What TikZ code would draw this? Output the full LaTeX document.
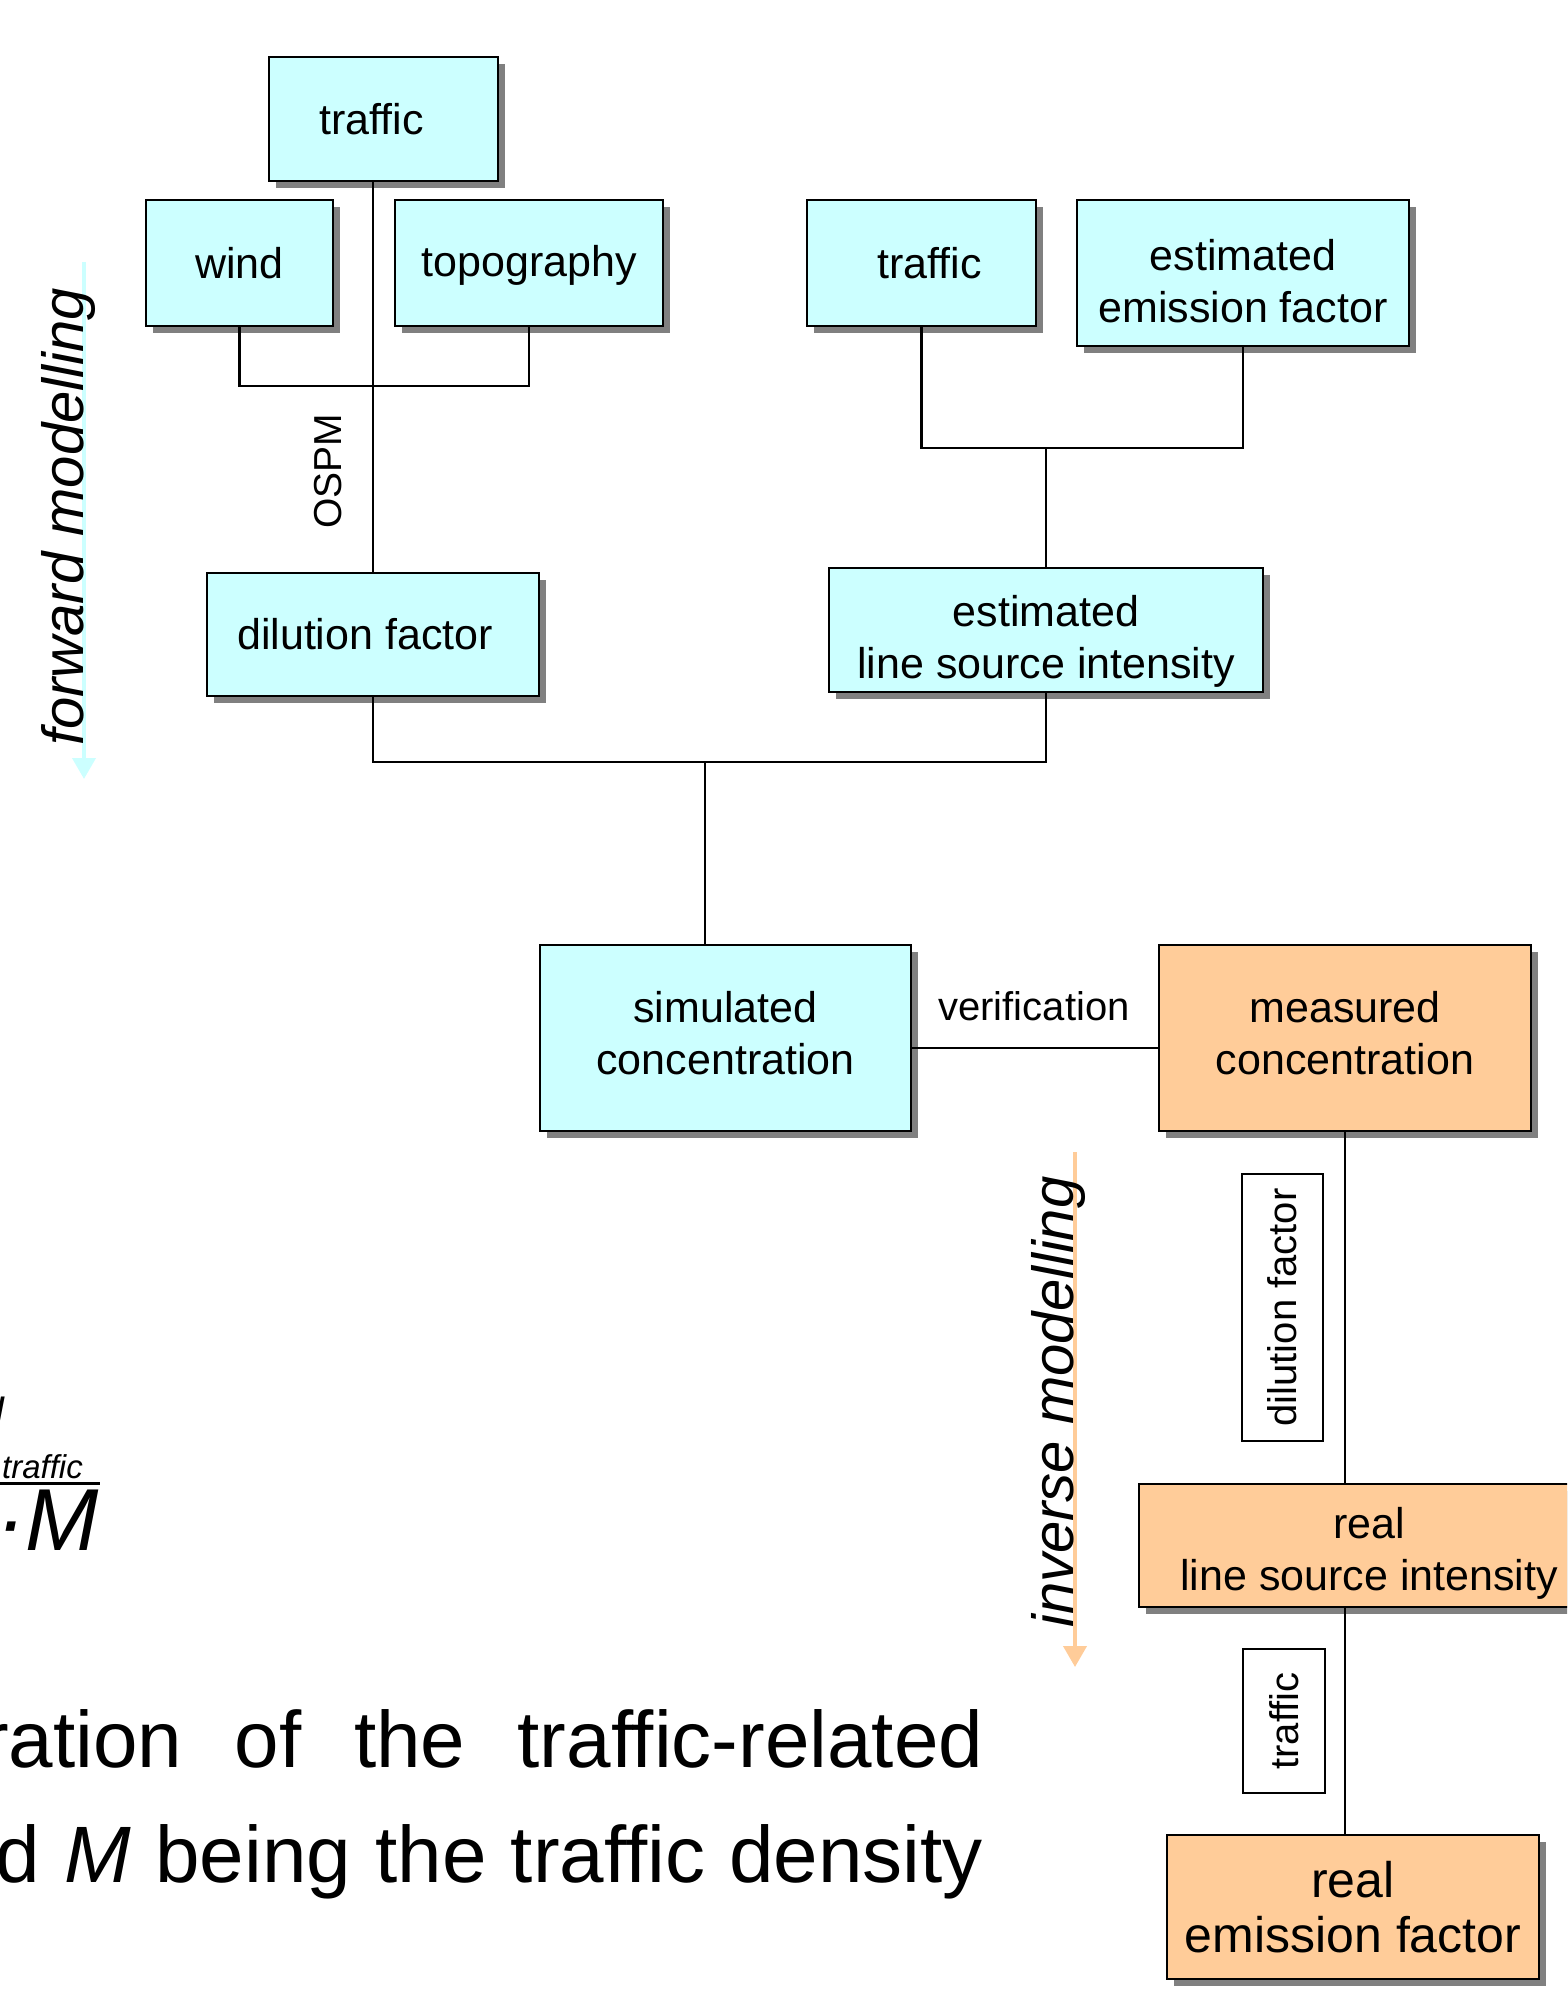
\documentclass[tikz,border=0pt]{standalone}
\usepackage{fontspec}
\setmainfont{Liberation Sans}
\usetikzlibrary{shadows,arrows.meta}
\definecolor{cyanfill}{HTML}{CCFFFF}
\definecolor{orangefill}{HTML}{FFCC99}
\definecolor{shadowgray}{HTML}{808080}
\begin{document}
\begin{tikzpicture}[x=1pt,y=-1pt,
  basebox/.style={draw=black, line width=2.5pt, inner sep=0pt,
    drop shadow={shadow xshift=7pt, shadow yshift=-7pt, fill=shadowgray, opacity=1}},
  fwdbox/.style={basebox, fill=cyanfill},
  invbox/.style={basebox, fill=orangefill},
  boxtext/.style={inner sep=0pt, align=center, font=\fontsize{43}{52}\selectfont},
  link/.style={draw=black, line width=2.2pt},
  tagbox/.style={draw=black, line width=2pt, fill=white, inner sep=0pt, font=\fontsize{40}{48}\selectfont},
  lbl/.style={inner sep=0pt, font=\fontsize{40}{48}\selectfont},
  flow/.style={line width=4pt, -{Triangle[width=23pt,length=21pt]}},
  flowtext/.style={inner sep=0pt, rotate=90, anchor=base, font=\fontsize{58}{58}\selectfont\itshape},
  bodytext/.style={inner sep=0pt, font=\fontsize{80}{80}\selectfont}
]
\useasboundingbox (0,0) rectangle (1567,2002);
\clip (0,0) rectangle (1567,2002);

% flow arrows
\coordinate (fwdTop) at (84,262);
\coordinate (fwdEnd) at (84,779);
\draw[flow, color=cyanfill] (fwdTop) -- (fwdEnd);
\node[flowtext] (fwdlab) at (83,517) {forward modelling};
\coordinate (invTop) at (1075,1152);
\coordinate (invEnd) at (1075,1667);
\draw[flow, color=orangefill] (invTop) -- (invEnd);
\node[flowtext] (invlab) at (1073,1402) {inverse modelling};

% boxes
\node[fwdbox, minimum width=229pt, minimum height=124pt] (trafA) at (383.5,119) {};
\node[boxtext] (trafAt) at ([xshift=-12pt]trafA.center) {traffic};
\node[fwdbox, minimum width=187pt, minimum height=126pt] (wind) at (239.5,263) {};
\node[boxtext] (windt) at (wind.center) {wind};
\node[fwdbox, minimum width=268pt, minimum height=126pt] (topo) at (529,263) {};
\node[boxtext] (topot) at ([yshift=-2pt]topo.center) {topography};
\node[fwdbox, minimum width=332pt, minimum height=123pt] (dil) at (373,634.5) {};
\node[boxtext] (dilt) at ([xshift=-8pt]dil.center) {dilution factor};
\node[fwdbox, minimum width=229pt, minimum height=126pt] (trafB) at (921.5,263) {};
\node[boxtext] (trafBt) at ([xshift=8pt]trafB.center) {traffic};
\node[fwdbox, minimum width=332pt, minimum height=146pt] (eef) at (1243,273) {};
\node[boxtext] (eeft) at ([yshift=-8pt]eef.center) {estimated\\emission factor};
\node[fwdbox, minimum width=434pt, minimum height=124pt] (elsi) at (1046,630) {};
\node[boxtext] (elsit) at ([yshift=-11pt]elsi.center) {estimated\\line source intensity};
\node[fwdbox, minimum width=371pt, minimum height=186pt] (sim) at (725.5,1038) {};
\node[boxtext] (simt) at ([yshift=5pt]sim.center) {simulated\\concentration};
\node[invbox, minimum width=372pt, minimum height=186pt] (meas) at (1345,1038) {};
\node[boxtext] (meast) at ([yshift=5pt]meas.center) {measured\\concentration};
\node[invbox, minimum width=460pt, minimum height=123pt] (rlsi) at (1369,1545.5) {};
\node[boxtext] (rlsit) at ([yshift=-8pt]rlsi.center) {real\\line source intensity};
\node[invbox, minimum width=372pt, minimum height=144pt] (ref) at (1353,1907) {};
\node[boxtext, font=\fontsize{50}{55}\selectfont] (reft) at ([yshift=0pt]ref.center) {real\\emission factor};

% tag boxes
\node[tagbox, minimum width=81pt, minimum height=267pt] (tagdil) at (1282.5,1307.5) {\rotatebox{90}{dilution factor}};
\node[tagbox, minimum width=82pt, minimum height=144pt] (tagtraf) at (1284,1721) {\rotatebox{90}{traffic}};

% connectors
\coordinate (j1) at (373,386);
\draw[link] (trafA.south -| dil.north) -- (dil.north);
\draw[link] (wind.south) |- (j1) -| (topo.south);
\coordinate (j2) at (1046,448);
\draw[link] (trafB.south) |- (j2) -| (eef.south);
\draw[link] (j2) -- (elsi.north);
\coordinate (j3) at (705,762);
\draw[link] (dil.south) |- (j3) -| (elsi.south);
\draw[link] (j3) -- (j3 |- sim.north);
\draw[link] ([yshift=-10pt]sim.east) -- ([yshift=-10pt]meas.west);
\draw[link] (meas.south) -- (meas.south |- rlsi.north);
\draw[link] (rlsi.south -| meas.south) -- (ref.north -| meas.south);

% labels
\node[lbl] (verif) at (1034,1006) {verification};
\node[lbl, rotate=90, font=\fontsize{39}{39}\selectfont] (ospm) at (328,471) {OSPM};

% formula fragment (left edge)
\node[anchor=base west, inner sep=0pt, font=\fontsize{40}{40}\selectfont\itshape] (numI) at (-6,1424) {I};
\node[anchor=base east, inner sep=0pt, font=\fontsize{33}{33}\selectfont\itshape] (subtr) at (83,1478) {traffic};
\coordinate (fracL) at (0,1483);
\coordinate (fracR) at (100,1483);
\draw[line width=3pt] (fracL) -- (fracR);
\node[anchor=base east, inner sep=0pt, font=\fontsize{88}{88}\selectfont\itshape] (dotM) at (99,1550) {·M};

% body text
\node[bodytext, anchor=base west] (line1) at (-18,1767) {\hbox to 1001pt{ration\hfill of\hfill the\hfill traffic-related}};
\node[bodytext, anchor=base east] (line2) at (983,1882) {\hbox to 987pt{d \textit{M} being the traffic density}};
\end{tikzpicture}
\end{document}
